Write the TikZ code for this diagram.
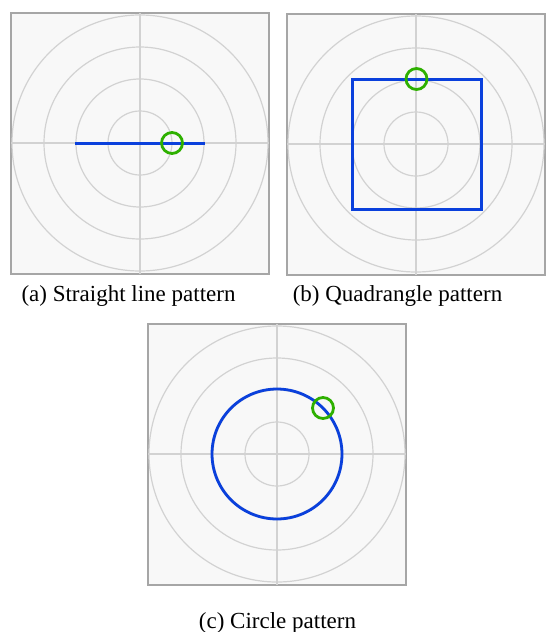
\documentclass[tikz,border=0pt]{standalone}
\usepackage{fontspec}
\setmainfont{Liberation Serif}
\definecolor{bgpanel}{HTML}{F8F8F8}
\definecolor{framec}{HTML}{A6A6A6}
\definecolor{gridc}{HTML}{D2D2D2}
\definecolor{pathblue}{HTML}{0A40DC}
\definecolor{markgreen}{HTML}{2EB000}
\tikzset{
  panelbox/.style={fill=bgpanel, draw=framec, line width=1.3pt},
  gridline/.style={draw=gridc, line width=1.2pt},
  bluepath/.style={draw=pathblue, line width=2.8pt},
  greenmark/.style={draw=markgreen, line width=2.8pt},
  caption/.style={anchor=base, font=\fontsize{23}{26}\selectfont, inner sep=0pt}
}
\newcommand{\polarpanel}[2]{%
  \draw[panelbox] (#1-129,#2-130) rectangle (#1+129,#2+131);
  \foreach \r in {32,64,96,128} \draw[gridline] (#1,#2) circle[radius=\r pt];
  \draw[gridline] (#1-129,#2) -- (#1+129,#2);
  \draw[gridline] (#1,#2-130) -- (#1,#2+131);
}
\begin{document}
\begin{tikzpicture}[x=1pt,y=-1pt]
\useasboundingbox (0,0) rectangle (546,632);
% panel (a)
\polarpanel{140}{143}
\draw[bluepath] (75,143.3) -- (205,143.3);
\draw[greenmark] (172,143) circle[radius=10.5pt];
% panel (b)
\polarpanel{416}{144}
\draw[bluepath] (352.3,79.3) -- (481.3,79.3) -- (481.3,209.3) -- (352.3,209.3) -- cycle;
\draw[greenmark] (416.5,79) circle[radius=10.5pt];
% panel (c)
\polarpanel{277}{454}
\draw[bluepath] (277,454) circle[radius=65pt];
\draw[greenmark] (323,408) circle[radius=10.5pt];
% captions
\node[caption] (capa) at (128.5,301) {(a) Straight line pattern};
\node[caption] (capb) at (397.5,301) {(b) Quadrangle pattern};
\node[caption] (capc) at (277.5,628) {(c) Circle pattern};
\end{tikzpicture}
\end{document}
